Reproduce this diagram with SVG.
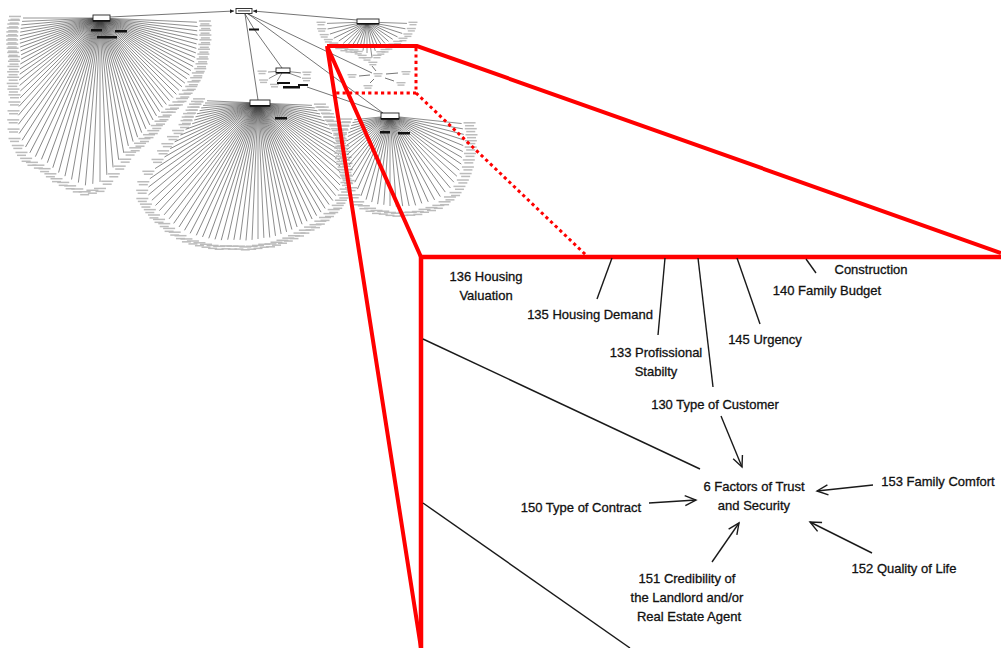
<svg xmlns="http://www.w3.org/2000/svg" xmlns:xlink="http://www.w3.org/1999/xlink" width="1001" height="648" viewBox="0 0 1001 648">
<style>
.t{font-family:"Liberation Sans",Arial,sans-serif;font-size:13px;fill:#111;stroke:#111;stroke-width:.3;text-anchor:middle}
.fan line{stroke:#3a3a3a;stroke-width:.55}
.th{stroke:#3a3a3a;stroke-width:.7;fill:none}
.hub{fill:#fff;stroke:#222;stroke-width:.9}
.blk{fill:#111}
.red{stroke:#f00;fill:none}
.cn{stroke:#1a1a1a;stroke-width:1.4;fill:none}
</style>
<defs>
<g id="L"><rect x="-6" y="-2.3" width="12" height="1.5" fill="#bcbcbc"/><rect x="-4.5" y=".6" width="9" height="1.5" fill="#bcbcbc"/></g>
<g id="l"><rect x="-4.5" y="-2" width="9" height="1.4" fill="#bcbcbc"/><rect x="-3.5" y=".4" width="7" height="1.4" fill="#bcbcbc"/></g>
<marker id="ah" markerWidth="14" markerHeight="14" refX="12" refY="6" orient="auto" markerUnits="userSpaceOnUse"><path d="M1,1 L12,6 L1,11" fill="none" stroke="#1a1a1a" stroke-width="1.4"/></marker>
<marker id="as" markerWidth="5" markerHeight="5" refX="4" refY="2" orient="auto" markerUnits="userSpaceOnUse"><path d="M0,0 L4,2 L0,4 Z" fill="#222"/></marker>
</defs>
<rect width="1001" height="648" fill="#fff"/>

<g id="overview">
<path class="th" d="M110,17 L234,11" marker-end="url(#as)"/>
<path class="th" d="M357,20 L253,11" marker-end="url(#as)"/>
<path class="th" d="M245,14 L258,100"/>
<path class="th" d="M245,14 L254,29 L282,68"/>
<path class="th" d="M246,13 L372,73"/>
<path class="th" d="M247,13 L383,113"/>
<path class="th" d="M307,87 L383,113"/>

<g class="fan" transform="translate(100,18)">
<g transform="rotate(90)"><line y2="77"/><use href="#L" transform="translate(0,85)rotate(-90)"/></g>
<g transform="rotate(87.5)"><line y2="78"/><use href="#L" transform="translate(0,86)rotate(-87.5)"/></g>
<g transform="rotate(85)"><line y2="79"/><use href="#L" transform="translate(0,87)rotate(-85)"/></g>
<g transform="rotate(82.5)"><line y2="80"/><use href="#L" transform="translate(0,88)rotate(-82.5)"/></g>
<g transform="rotate(80)"><line y2="81"/><use href="#L" transform="translate(0,89)rotate(-80)"/></g>
<g transform="rotate(77.5)"><line y2="82"/><use href="#L" transform="translate(0,90)rotate(-77.5)"/></g>
<g transform="rotate(75)"><line y2="83"/><use href="#L" transform="translate(0,91)rotate(-75)"/></g>
<g transform="rotate(72.5)"><line y2="84"/><use href="#L" transform="translate(0,92)rotate(-72.5)"/></g>
<g transform="rotate(70)"><line y2="85"/><use href="#L" transform="translate(0,93)rotate(-70)"/></g>
<g transform="rotate(67.5)"><line y2="86"/><use href="#L" transform="translate(0,94)rotate(-67.5)"/></g>
<g transform="rotate(65)"><line y2="87"/><use href="#L" transform="translate(0,95)rotate(-65)"/></g>
<g transform="rotate(62.5)"><line y2="89"/><use href="#L" transform="translate(0,97)rotate(-62.5)"/></g>
<g transform="rotate(60)"><line y2="92"/><use href="#L" transform="translate(0,100)rotate(-60)"/></g>
<g transform="rotate(57.5)"><line y2="95"/><use href="#L" transform="translate(0,103)rotate(-57.5)"/></g>
<g transform="rotate(55)"><line y2="98"/><use href="#L" transform="translate(0,106)rotate(-55)"/></g>
<g transform="rotate(52.5)"><line y2="102"/><use href="#L" transform="translate(0,110)rotate(-52.5)"/></g>
<g transform="rotate(50)"><line y2="105"/><use href="#L" transform="translate(0,113)rotate(-50)"/></g>
<g transform="rotate(47.5)"><line y2="108"/><use href="#L" transform="translate(0,116)rotate(-47.5)"/></g>
<g transform="rotate(45)"><line y2="113"/><use href="#L" transform="translate(0,121)rotate(-45)"/></g>
<g transform="rotate(42.5)"><line y2="120"/><use href="#L" transform="translate(0,128)rotate(-42.5)"/></g>
<g transform="rotate(40)"><line y2="127"/><use href="#L" transform="translate(0,135)rotate(-40)"/></g>
<g transform="rotate(37.5)"><line y2="134"/><use href="#L" transform="translate(0,142)rotate(-37.5)"/></g>
<g transform="rotate(35)"><line y2="141"/><use href="#L" transform="translate(0,149)rotate(-35)"/></g>
<g transform="rotate(32.5)"><line y2="145"/><use href="#L" transform="translate(0,153)rotate(-32.5)"/></g>
<g transform="rotate(30)"><line y2="149"/><use href="#L" transform="translate(0,157)rotate(-30)"/></g>
<g transform="rotate(27.5)"><line y2="152"/><use href="#L" transform="translate(0,160)rotate(-27.5)"/></g>
<g transform="rotate(25)"><line y2="153"/><use href="#L" transform="translate(0,161)rotate(-25)"/></g>
<g transform="rotate(22.5)"><line y2="153"/><use href="#L" transform="translate(0,161)rotate(-22.5)"/></g>
<g transform="rotate(20)"><line y2="154"/><use href="#L" transform="translate(0,162)rotate(-20)"/></g>
<g transform="rotate(17.5)"><line y2="157"/><use href="#L" transform="translate(0,165)rotate(-17.5)"/></g>
<g transform="rotate(15)"><line y2="160"/><use href="#L" transform="translate(0,168)rotate(-15)"/></g>
<g transform="rotate(12.5)"><line y2="162"/><use href="#L" transform="translate(0,170)rotate(-12.5)"/></g>
<g transform="rotate(10)"><line y2="164"/><use href="#L" transform="translate(0,172)rotate(-10)"/></g>
<g transform="rotate(7.5)"><line y2="166"/><use href="#L" transform="translate(0,174)rotate(-7.5)"/></g>
<g transform="rotate(5)"><line y2="168"/><use href="#L" transform="translate(0,176)rotate(-5)"/></g>
<g transform="rotate(2.5)"><line y2="166"/><use href="#L" transform="translate(0,174)rotate(-2.5)"/></g>
<g transform="rotate(0)"><line y2="164"/><use href="#L" transform="translate(0,172)"/></g>
<g transform="rotate(-2.5)"><line y2="157"/><use href="#L" transform="translate(0,165)rotate(2.5)"/></g>
<g transform="rotate(-5)"><line y2="150"/><use href="#L" transform="translate(0,158)rotate(5)"/></g>
<g transform="rotate(-7.5)"><line y2="143"/><use href="#L" transform="translate(0,151)rotate(7.5)"/></g>
<g transform="rotate(-10)"><line y2="137"/><use href="#L" transform="translate(0,145)rotate(10)"/></g>
<g transform="rotate(-12.5)"><line y2="131"/><use href="#L" transform="translate(0,139)rotate(12.5)"/></g>
<g transform="rotate(-15)"><line y2="128"/><use href="#L" transform="translate(0,136)rotate(15)"/></g>
<g transform="rotate(-17.5)"><line y2="125"/><use href="#L" transform="translate(0,133)rotate(17.5)"/></g>
<g transform="rotate(-20)"><line y2="122"/><use href="#L" transform="translate(0,130)rotate(20)"/></g>
<g transform="rotate(-22.5)"><line y2="120"/><use href="#L" transform="translate(0,128)rotate(22.5)"/></g>
<g transform="rotate(-25)"><line y2="118"/><use href="#L" transform="translate(0,126)rotate(25)"/></g>
<g transform="rotate(-27.5)"><line y2="115"/><use href="#L" transform="translate(0,123)rotate(27.5)"/></g>
<g transform="rotate(-30)"><line y2="113"/><use href="#L" transform="translate(0,121)rotate(30)"/></g>
<g transform="rotate(-32.5)"><line y2="111"/><use href="#L" transform="translate(0,119)rotate(32.5)"/></g>
<g transform="rotate(-35)"><line y2="109"/><use href="#L" transform="translate(0,117)rotate(35)"/></g>
<g transform="rotate(-37.5)"><line y2="109"/><use href="#L" transform="translate(0,117)rotate(37.5)"/></g>
<g transform="rotate(-40)"><line y2="108"/><use href="#L" transform="translate(0,116)rotate(40)"/></g>
<g transform="rotate(-42.5)"><line y2="108"/><use href="#L" transform="translate(0,116)rotate(42.5)"/></g>
<g transform="rotate(-45)"><line y2="108"/><use href="#L" transform="translate(0,116)rotate(45)"/></g>
<g transform="rotate(-47.5)"><line y2="107"/><use href="#L" transform="translate(0,115)rotate(47.5)"/></g>
<g transform="rotate(-50)"><line y2="107"/><use href="#L" transform="translate(0,115)rotate(50)"/></g>
<g transform="rotate(-52.5)"><line y2="107"/><use href="#L" transform="translate(0,115)rotate(52.5)"/></g>
<g transform="rotate(-55)"><line y2="106"/><use href="#L" transform="translate(0,114)rotate(55)"/></g>
<g transform="rotate(-57.5)"><line y2="106"/><use href="#L" transform="translate(0,114)rotate(57.5)"/></g>
<g transform="rotate(-60)"><line y2="105"/><use href="#L" transform="translate(0,113)rotate(60)"/></g>
<g transform="rotate(-62.5)"><line y2="105"/><use href="#L" transform="translate(0,113)rotate(62.5)"/></g>
<g transform="rotate(-65)"><line y2="104"/><use href="#L" transform="translate(0,112)rotate(65)"/></g>
<g transform="rotate(-67.5)"><line y2="103"/><use href="#L" transform="translate(0,111)rotate(67.5)"/></g>
<g transform="rotate(-70)"><line y2="102"/><use href="#L" transform="translate(0,110)rotate(70)"/></g>
<g transform="rotate(-72.5)"><line y2="101"/><use href="#L" transform="translate(0,109)rotate(72.5)"/></g>
<g transform="rotate(-75)"><line y2="100"/><use href="#L" transform="translate(0,108)rotate(75)"/></g>
<g transform="rotate(-77.5)"><line y2="100"/><use href="#L" transform="translate(0,108)rotate(77.5)"/></g>
<g transform="rotate(-80)"><line y2="99"/><use href="#L" transform="translate(0,107)rotate(80)"/></g>
<g transform="rotate(-82.5)"><line y2="98"/><use href="#L" transform="translate(0,106)rotate(82.5)"/></g>
<g transform="rotate(-85)"><line y2="98"/><use href="#L" transform="translate(0,106)rotate(85)"/></g>
<g transform="rotate(-87.5)"><line y2="97"/><use href="#L" transform="translate(0,105)rotate(87.5)"/></g>
</g>
<rect class="hub" x="93" y="15" width="17" height="6"/>
<rect class="blk" x="93" y="20" width="17" height="1.6"/>
<rect class="blk" x="91" y="29" width="11" height="2.5"/>
<rect class="blk" x="115" y="30" width="12" height="2.5"/>
<rect class="blk" x="97" y="36" width="20" height="2.5"/>

<g class="fan" transform="translate(258,103)">
<g transform="rotate(92.5)"><line y2="51"/><use href="#L" transform="translate(0,59)rotate(-92.5)"/></g>
<g transform="rotate(90)"><line y2="53"/><use href="#L" transform="translate(0,61)rotate(-90)"/></g>
<g transform="rotate(87.5)"><line y2="55"/><use href="#L" transform="translate(0,63)rotate(-87.5)"/></g>
<g transform="rotate(85)"><line y2="57"/><use href="#L" transform="translate(0,65)rotate(-85)"/></g>
<g transform="rotate(82.5)"><line y2="59"/><use href="#L" transform="translate(0,67)rotate(-82.5)"/></g>
<g transform="rotate(80)"><line y2="62"/><use href="#L" transform="translate(0,70)rotate(-80)"/></g>
<g transform="rotate(77.5)"><line y2="64"/><use href="#L" transform="translate(0,72)rotate(-77.5)"/></g>
<g transform="rotate(75)"><line y2="66"/><use href="#L" transform="translate(0,74)rotate(-75)"/></g>
<g transform="rotate(72.5)"><line y2="69"/><use href="#L" transform="translate(0,77)rotate(-72.5)"/></g>
<g transform="rotate(70)"><line y2="77"/><use href="#L" transform="translate(0,85)rotate(-70)"/></g>
<g transform="rotate(67.5)"><line y2="84"/><use href="#L" transform="translate(0,92)rotate(-67.5)"/></g>
<g transform="rotate(65)"><line y2="92"/><use href="#L" transform="translate(0,100)rotate(-65)"/></g>
<g transform="rotate(62.5)"><line y2="99"/><use href="#L" transform="translate(0,107)rotate(-62.5)"/></g>
<g transform="rotate(60)"><line y2="108"/><use href="#L" transform="translate(0,116)rotate(-60)"/></g>
<g transform="rotate(57.5)"><line y2="122"/><use href="#L" transform="translate(0,130)rotate(-57.5)"/></g>
<g transform="rotate(55)"><line y2="132"/><use href="#L" transform="translate(0,140)rotate(-55)"/></g>
<g transform="rotate(52.5)"><line y2="138"/><use href="#L" transform="translate(0,146)rotate(-52.5)"/></g>
<g transform="rotate(50)"><line y2="143"/><use href="#L" transform="translate(0,151)rotate(-50)"/></g>
<g transform="rotate(47.5)"><line y2="144"/><use href="#L" transform="translate(0,152)rotate(-47.5)"/></g>
<g transform="rotate(45)"><line y2="145"/><use href="#L" transform="translate(0,153)rotate(-45)"/></g>
<g transform="rotate(42.5)"><line y2="146"/><use href="#L" transform="translate(0,154)rotate(-42.5)"/></g>
<g transform="rotate(40)"><line y2="146"/><use href="#L" transform="translate(0,154)rotate(-40)"/></g>
<g transform="rotate(37.5)"><line y2="146"/><use href="#L" transform="translate(0,154)rotate(-37.5)"/></g>
<g transform="rotate(35)"><line y2="147"/><use href="#L" transform="translate(0,155)rotate(-35)"/></g>
<g transform="rotate(32.5)"><line y2="147"/><use href="#L" transform="translate(0,155)rotate(-32.5)"/></g>
<g transform="rotate(30)"><line y2="147"/><use href="#L" transform="translate(0,155)rotate(-30)"/></g>
<g transform="rotate(27.5)"><line y2="147"/><use href="#L" transform="translate(0,155)rotate(-27.5)"/></g>
<g transform="rotate(25)"><line y2="146"/><use href="#L" transform="translate(0,154)rotate(-25)"/></g>
<g transform="rotate(22.5)"><line y2="145"/><use href="#L" transform="translate(0,153)rotate(-22.5)"/></g>
<g transform="rotate(20)"><line y2="144"/><use href="#L" transform="translate(0,152)rotate(-20)"/></g>
<g transform="rotate(17.5)"><line y2="143"/><use href="#L" transform="translate(0,151)rotate(-17.5)"/></g>
<g transform="rotate(15)"><line y2="142"/><use href="#L" transform="translate(0,150)rotate(-15)"/></g>
<g transform="rotate(12.5)"><line y2="140"/><use href="#L" transform="translate(0,148)rotate(-12.5)"/></g>
<g transform="rotate(10)"><line y2="139"/><use href="#L" transform="translate(0,147)rotate(-10)"/></g>
<g transform="rotate(7.5)"><line y2="138"/><use href="#L" transform="translate(0,146)rotate(-7.5)"/></g>
<g transform="rotate(5)"><line y2="138"/><use href="#L" transform="translate(0,146)rotate(-5)"/></g>
<g transform="rotate(2.5)"><line y2="137"/><use href="#L" transform="translate(0,145)rotate(-2.5)"/></g>
<g transform="rotate(0)"><line y2="136"/><use href="#L" transform="translate(0,144)"/></g>
<g transform="rotate(-2.5)"><line y2="135"/><use href="#L" transform="translate(0,143)rotate(2.5)"/></g>
<g transform="rotate(-5)"><line y2="135"/><use href="#L" transform="translate(0,143)rotate(5)"/></g>
<g transform="rotate(-7.5)"><line y2="134"/><use href="#L" transform="translate(0,142)rotate(7.5)"/></g>
<g transform="rotate(-10)"><line y2="133"/><use href="#L" transform="translate(0,141)rotate(10)"/></g>
<g transform="rotate(-12.5)"><line y2="132"/><use href="#L" transform="translate(0,140)rotate(12.5)"/></g>
<g transform="rotate(-15)"><line y2="131"/><use href="#L" transform="translate(0,139)rotate(15)"/></g>
<g transform="rotate(-17.5)"><line y2="130"/><use href="#L" transform="translate(0,138)rotate(17.5)"/></g>
<g transform="rotate(-20)"><line y2="129"/><use href="#L" transform="translate(0,137)rotate(20)"/></g>
<g transform="rotate(-22.5)"><line y2="128"/><use href="#L" transform="translate(0,136)rotate(22.5)"/></g>
<g transform="rotate(-25)"><line y2="128"/><use href="#L" transform="translate(0,136)rotate(25)"/></g>
<g transform="rotate(-27.5)"><line y2="127"/><use href="#L" transform="translate(0,135)rotate(27.5)"/></g>
<g transform="rotate(-30)"><line y2="126"/><use href="#L" transform="translate(0,134)rotate(30)"/></g>
<g transform="rotate(-32.5)"><line y2="125"/><use href="#L" transform="translate(0,133)rotate(32.5)"/></g>
<g transform="rotate(-35)"><line y2="124"/><use href="#L" transform="translate(0,132)rotate(35)"/></g>
<g transform="rotate(-37.5)"><line y2="123"/><use href="#L" transform="translate(0,131)rotate(37.5)"/></g>
<g transform="rotate(-40)"><line y2="121"/><use href="#L" transform="translate(0,129)rotate(40)"/></g>
<g transform="rotate(-42.5)"><line y2="119"/><use href="#L" transform="translate(0,127)rotate(42.5)"/></g>
<g transform="rotate(-45)"><line y2="116"/><use href="#L" transform="translate(0,124)rotate(45)"/></g>
<g transform="rotate(-47.5)"><line y2="112"/><use href="#L" transform="translate(0,120)rotate(47.5)"/></g>
<g transform="rotate(-50)"><line y2="108"/><use href="#L" transform="translate(0,116)rotate(50)"/></g>
<g transform="rotate(-52.5)"><line y2="104"/><use href="#L" transform="translate(0,112)rotate(52.5)"/></g>
<g transform="rotate(-55)"><line y2="100"/><use href="#L" transform="translate(0,108)rotate(55)"/></g>
<g transform="rotate(-57.5)"><line y2="96"/><use href="#L" transform="translate(0,104)rotate(57.5)"/></g>
<g transform="rotate(-60)"><line y2="92"/><use href="#L" transform="translate(0,100)rotate(60)"/></g>
<g transform="rotate(-62.5)"><line y2="88"/><use href="#L" transform="translate(0,96)rotate(62.5)"/></g>
<g transform="rotate(-65)"><line y2="84"/><use href="#L" transform="translate(0,92)rotate(65)"/></g>
<g transform="rotate(-67.5)"><line y2="80"/><use href="#L" transform="translate(0,88)rotate(67.5)"/></g>
<g transform="rotate(-70)"><line y2="77"/><use href="#L" transform="translate(0,85)rotate(70)"/></g>
<g transform="rotate(-72.5)"><line y2="73"/><use href="#L" transform="translate(0,81)rotate(72.5)"/></g>
<g transform="rotate(-75)"><line y2="69"/><use href="#L" transform="translate(0,77)rotate(75)"/></g>
<g transform="rotate(-77.5)"><line y2="65"/><use href="#L" transform="translate(0,73)rotate(77.5)"/></g>
<g transform="rotate(-80)"><line y2="63"/><use href="#L" transform="translate(0,71)rotate(80)"/></g>
<g transform="rotate(-82.5)"><line y2="60"/><use href="#L" transform="translate(0,68)rotate(82.5)"/></g>
<g transform="rotate(-85)"><line y2="57"/><use href="#L" transform="translate(0,65)rotate(85)"/></g>
<g transform="rotate(-87.5)"><line y2="54"/><use href="#L" transform="translate(0,62)rotate(87.5)"/></g>
</g>
<rect class="hub" x="250" y="100" width="20" height="6"/>
<rect class="blk" x="250" y="105" width="20" height="1.6"/>
<rect class="blk" x="275" y="117" width="12" height="2.5"/>

<g class="fan" transform="translate(390,116)">
<g transform="rotate(84)"><line y2="36"/><use href="#L" transform="translate(0,44)rotate(-84)"/></g>
<g transform="rotate(80)"><line y2="38"/><use href="#L" transform="translate(0,46)rotate(-80)"/></g>
<g transform="rotate(76)"><line y2="40"/><use href="#L" transform="translate(0,48)rotate(-76)"/></g>
<g transform="rotate(72)"><line y2="42"/><use href="#L" transform="translate(0,50)rotate(-72)"/></g>
<g transform="rotate(68)"><line y2="45"/><use href="#L" transform="translate(0,53)rotate(-68)"/></g>
<g transform="rotate(64)"><line y2="47"/><use href="#L" transform="translate(0,55)rotate(-64)"/></g>
<g transform="rotate(60)"><line y2="50"/><use href="#L" transform="translate(0,58)rotate(-60)"/></g>
<g transform="rotate(56)"><line y2="52"/><use href="#L" transform="translate(0,60)rotate(-56)"/></g>
<g transform="rotate(52)"><line y2="55"/><use href="#L" transform="translate(0,63)rotate(-52)"/></g>
<g transform="rotate(48)"><line y2="58"/><use href="#L" transform="translate(0,66)rotate(-48)"/></g>
<g transform="rotate(44)"><line y2="61"/><use href="#L" transform="translate(0,69)rotate(-44)"/></g>
<g transform="rotate(40)"><line y2="64"/><use href="#L" transform="translate(0,72)rotate(-40)"/></g>
<g transform="rotate(36)"><line y2="67"/><use href="#L" transform="translate(0,75)rotate(-36)"/></g>
<g transform="rotate(32)"><line y2="70"/><use href="#L" transform="translate(0,78)rotate(-32)"/></g>
<g transform="rotate(28)"><line y2="75"/><use href="#L" transform="translate(0,83)rotate(-28)"/></g>
<g transform="rotate(24)"><line y2="80"/><use href="#L" transform="translate(0,88)rotate(-24)"/></g>
<g transform="rotate(20)"><line y2="85"/><use href="#L" transform="translate(0,93)rotate(-20)"/></g>
<g transform="rotate(16)"><line y2="87"/><use href="#L" transform="translate(0,95)rotate(-16)"/></g>
<g transform="rotate(12)"><line y2="88"/><use href="#L" transform="translate(0,96)rotate(-12)"/></g>
<g transform="rotate(8)"><line y2="89"/><use href="#L" transform="translate(0,97)rotate(-8)"/></g>
<g transform="rotate(4)"><line y2="89"/><use href="#L" transform="translate(0,97)rotate(-4)"/></g>
<g transform="rotate(0)"><line y2="90"/><use href="#L" transform="translate(0,98)"/></g>
<g transform="rotate(-4)"><line y2="91"/><use href="#L" transform="translate(0,99)rotate(4)"/></g>
<g transform="rotate(-8)"><line y2="91"/><use href="#L" transform="translate(0,99)rotate(8)"/></g>
<g transform="rotate(-12)"><line y2="92"/><use href="#L" transform="translate(0,100)rotate(12)"/></g>
<g transform="rotate(-16)"><line y2="93"/><use href="#L" transform="translate(0,101)rotate(16)"/></g>
<g transform="rotate(-20)"><line y2="93"/><use href="#L" transform="translate(0,101)rotate(20)"/></g>
<g transform="rotate(-24)"><line y2="94"/><use href="#L" transform="translate(0,102)rotate(24)"/></g>
<g transform="rotate(-28)"><line y2="95"/><use href="#L" transform="translate(0,103)rotate(28)"/></g>
<g transform="rotate(-32)"><line y2="95"/><use href="#L" transform="translate(0,103)rotate(32)"/></g>
<g transform="rotate(-36)"><line y2="94"/><use href="#L" transform="translate(0,102)rotate(36)"/></g>
<g transform="rotate(-40)"><line y2="94"/><use href="#L" transform="translate(0,102)rotate(40)"/></g>
<g transform="rotate(-44)"><line y2="92"/><use href="#L" transform="translate(0,100)rotate(44)"/></g>
<g transform="rotate(-48)"><line y2="90"/><use href="#L" transform="translate(0,98)rotate(48)"/></g>
<g transform="rotate(-52)"><line y2="88"/><use href="#L" transform="translate(0,96)rotate(52)"/></g>
<g transform="rotate(-56)"><line y2="86"/><use href="#L" transform="translate(0,94)rotate(56)"/></g>
<g transform="rotate(-60)"><line y2="83"/><use href="#L" transform="translate(0,91)rotate(60)"/></g>
<g transform="rotate(-64)"><line y2="81"/><use href="#L" transform="translate(0,89)rotate(64)"/></g>
<g transform="rotate(-68)"><line y2="79"/><use href="#L" transform="translate(0,87)rotate(68)"/></g>
<g transform="rotate(-72)"><line y2="77"/><use href="#L" transform="translate(0,85)rotate(72)"/></g>
<g transform="rotate(-76)"><line y2="76"/><use href="#L" transform="translate(0,84)rotate(76)"/></g>
<g transform="rotate(-80)"><line y2="74"/><use href="#L" transform="translate(0,82)rotate(80)"/></g>
<g transform="rotate(-84)"><line y2="72"/><use href="#L" transform="translate(0,80)rotate(84)"/></g>
</g>
<rect class="hub" x="381" y="113" width="18" height="6"/>
<rect class="blk" x="381" y="118" width="18" height="1.6"/>
<rect class="blk" x="380" y="131" width="10" height="2.5"/>
<rect class="blk" x="398" y="132" width="12" height="2.5"/>

<g class="fan" transform="translate(367,22)">
<g transform="rotate(88)"><line y2="40"/><use href="#l" transform="translate(0,46)rotate(-88)"/></g>
<g transform="rotate(80)"><line y2="40"/><use href="#l" transform="translate(0,46)rotate(-80)"/></g>
<g transform="rotate(72)"><line y2="39"/><use href="#l" transform="translate(0,45)rotate(-72)"/></g>
<g transform="rotate(64)"><line y2="37"/><use href="#l" transform="translate(0,43)rotate(-64)"/></g>
<g transform="rotate(56)"><line y2="34"/><use href="#l" transform="translate(0,40)rotate(-56)"/></g>
<g transform="rotate(48)"><line y2="32"/><use href="#l" transform="translate(0,38)rotate(-48)"/></g>
<g transform="rotate(40)"><line y2="30"/><use href="#l" transform="translate(0,36)rotate(-40)"/></g>
<g transform="rotate(32)"><line y2="28"/><use href="#l" transform="translate(0,34)rotate(-32)"/></g>
<g transform="rotate(24)"><line y2="26"/><use href="#l" transform="translate(0,32)rotate(-24)"/></g>
<g transform="rotate(16)"><line y2="26"/><use href="#l" transform="translate(0,32)rotate(-16)"/></g>
<g transform="rotate(8)"><line y2="29"/><use href="#l" transform="translate(0,35)rotate(-8)"/></g>
<g transform="rotate(0)"><line y2="31"/><use href="#l" transform="translate(0,37)"/></g>
<g transform="rotate(-8)"><line y2="36"/><use href="#l" transform="translate(0,42)rotate(8)"/></g>
<g transform="rotate(-16)"><line y2="30"/><use href="#l" transform="translate(0,36)rotate(16)"/></g>
<g transform="rotate(-24)"><line y2="28"/><use href="#l" transform="translate(0,34)rotate(24)"/></g>
<g transform="rotate(-32)"><line y2="28"/><use href="#l" transform="translate(0,34)rotate(32)"/></g>
<g transform="rotate(-40)"><line y2="28"/><use href="#l" transform="translate(0,34)rotate(40)"/></g>
<g transform="rotate(-48)"><line y2="29"/><use href="#l" transform="translate(0,35)rotate(48)"/></g>
<g transform="rotate(-56)"><line y2="31"/><use href="#l" transform="translate(0,37)rotate(56)"/></g>
<g transform="rotate(-64)"><line y2="34"/><use href="#l" transform="translate(0,40)rotate(64)"/></g>
<g transform="rotate(-72)"><line y2="37"/><use href="#l" transform="translate(0,43)rotate(72)"/></g>
<g transform="rotate(-80)"><line y2="39"/><use href="#l" transform="translate(0,45)rotate(80)"/></g>
<g transform="rotate(-88)"><line y2="40"/><use href="#l" transform="translate(0,46)rotate(88)"/></g>
</g>
<rect class="hub" x="357" y="19" width="22" height="5"/>
<rect class="blk" x="357" y="23" width="22" height="1.4"/>

<g class="fan" transform="translate(283,71)">
<g transform="rotate(86)"><line y2="15"/><use href="#l" transform="translate(0,21)rotate(-86)"/></g>
<g transform="rotate(62)"><line y2="16"/><use href="#l" transform="translate(0,22)rotate(-62)"/></g>
<g transform="rotate(30)"><line y2="12"/><use href="#l" transform="translate(0,17)rotate(-30)"/></g>
<g transform="rotate(-84)"><line y2="18"/><use href="#l" transform="translate(0,24)rotate(84)"/></g>
<g transform="rotate(-70)"><line y2="19"/><use href="#l" transform="translate(0,25)rotate(70)"/></g>
</g>
<rect class="hub" x="276" y="68" width="14" height="5"/>
<rect class="blk" x="276" y="72" width="14" height="1.3"/>
<rect class="blk" x="277" y="82" width="13" height="2"/>
<rect class="blk" x="283" y="86" width="17" height="2.5"/>
<rect class="blk" x="298" y="84" width="10" height="2"/>

<rect class="hub" x="236" y="8.5" width="16" height="5"/>
<rect x="238" y="10" width="12" height="1.6" fill="#888"/>
<rect class="blk" x="249" y="28.5" width="10" height="2"/>

<g transform="translate(378,75)">
<use href="#l"/>
<use href="#l" transform="translate(-26,1)"/>
<use href="#l" transform="translate(28,-2)"/>
<use href="#l" transform="translate(23,9)"/>
<use href="#l" transform="translate(-10,12)"/>
<path class="th" d="M-6,-9 L-2,-4 M-19,1 L-8,0 M20,-2 L8,-1 M16,6 L7,3 M-8,8 L-4,4"/>
</g>
</g>

<g id="zoom-frame" class="red">
<path d="M327,46 H417 L1001,253" stroke-width="4"/>
<path d="M327,46 L421,257 M327,46 L421,648" stroke-width="4"/>
<path d="M416,48 V93 H334" stroke-width="3" stroke-dasharray="3.2 3.2"/>
<path d="M416,93 L588,257" stroke-width="3" stroke-dasharray="3.2 3.2"/>
<path d="M421,648 V257 H1001" stroke-width="4.5"/>
</g>

<g id="connectors" class="cn">
<path d="M612,258 L597,299"/>
<path d="M665,258 L658,335"/>
<path d="M698,258 L713,387"/>
<path d="M737,258 L760,324"/>
<path d="M806,259 L816,273"/>
<path d="M423,339 L700,469"/>
<path d="M423,503 L630,648"/>
<path d="M721,416 L742,467" marker-end="url(#ah)"/>
<path d="M649,503 L696,500" marker-end="url(#ah)"/>
<path d="M873,485 L817,491" marker-end="url(#ah)"/>
<path d="M872,553 L810,522" marker-end="url(#ah)"/>
<path d="M712,562 L739,523" marker-end="url(#ah)"/>
</g>

<g id="n136"><text class="t" x="486" y="281">136 Housing</text><text class="t" x="486" y="300">Valuation</text></g>
<g id="n135"><text class="t" x="590" y="319">135 Housing Demand</text></g>
<g id="n133"><text class="t" x="656" y="357">133 Profissional</text><text class="t" x="656" y="376">Stabilty</text></g>
<g id="n130"><text class="t" x="715" y="409">130 Type of Customer</text></g>
<g id="n145"><text class="t" x="765" y="344">145 Urgency</text></g>
<g id="n140"><text class="t" x="827" y="295">140 Family Budget</text></g>
<g id="nConstruction"><text class="t" x="871" y="274">Construction</text></g>
<g id="n6"><text class="t" x="754" y="491">6 Factors of Trust</text><text class="t" x="754" y="510">and Security</text></g>
<g id="n150"><text class="t" x="581" y="512">150 Type of Contract</text></g>
<g id="n153"><text class="t" x="938" y="486">153 Family Comfort</text></g>
<g id="n152"><text class="t" x="904" y="573">152 Quality of Life</text></g>
<g id="n151"><text class="t" x="687" y="583">151 Credibility of</text><text class="t" x="687" y="602">the Landlord and/or</text><text class="t" x="689" y="621">Real Estate Agent</text></g>
</svg>
